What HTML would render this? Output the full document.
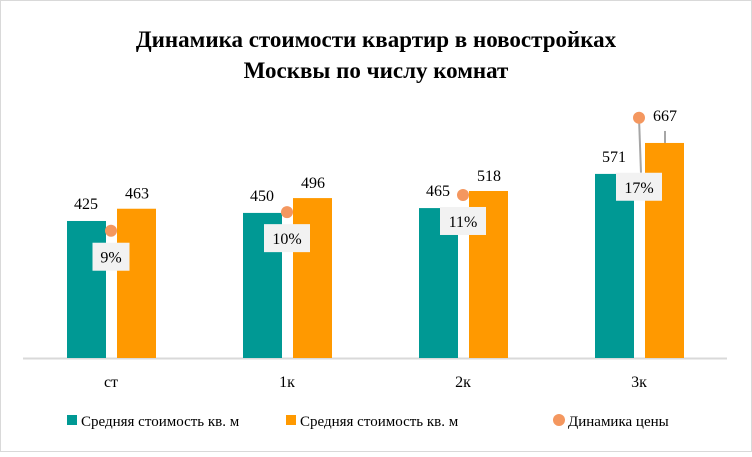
<!DOCTYPE html>
<html><head><meta charset="utf-8"><style>
body{margin:0;background:#fff}
svg text{font-family:"Liberation Serif",serif}
</style></head><body>
<svg width="752" height="452" xmlns="http://www.w3.org/2000/svg">
<rect x="0.5" y="0.5" width="751" height="451" fill="#fff" stroke="#d9d9d9"/>
<text x="376" y="47" text-anchor="middle" font-size="23" font-weight="bold">Динамика  стоимости  квартир  в новостройках</text>
<text x="376" y="78" text-anchor="middle" font-size="23" font-weight="bold">Москвы по числу комнат</text>
<line x1="23" y1="358.5" x2="727" y2="358.5" stroke="#d9d9d9" stroke-width="2"/>
<g id="plot"></g>
<g>
<rect x="67" y="415" width="10" height="10" fill="#009994"/>
<text x="81" y="426" font-size="15">Средняя стоимость кв. м</text>
<rect x="286" y="415" width="10" height="10" fill="#ff9900"/>
<text x="300" y="426" font-size="15">Средняя стоимость кв. м</text>
<circle cx="559" cy="420" r="6" fill="#f4975f"/>
<text x="568" y="426" font-size="15">Динамика цены</text>
</g>
</svg>
<script>
const categories=["ст","1к","2к","3к"];
const seriesA=[425,450,465,571];
const seriesB=[463,496,518,667];
const growth=[8.9,10.2,11.4,16.8];
const growthLabels=["9%","10%","11%","17%"];
const NS="http://www.w3.org/2000/svg";
const g=document.getElementById('plot');
const x0=23,band=176,base=358;
const yv=v=>base-v*0.3224;
const yp=p=>base-p*14.3;
const cx=i=>x0+band*(i+0.5);
function mk(t,a){const e=document.createElementNS(NS,t);for(const k in a)e.setAttribute(k,a[k]);g.appendChild(e);return e;}
categories.forEach((c,i)=>{
 const xc=cx(i);
 let r=mk('rect',{x:xc-44,y:yv(seriesA[i]),width:39,height:base-yv(seriesA[i]),fill:'#009994'});
 
 
 r=mk('rect',{x:xc+6,y:yv(seriesB[i]),width:39,height:base-yv(seriesB[i]),fill:'#ff9900'});
 
 
 let t=mk('text',{x:xc-25,y:yv(seriesA[i])-12,'text-anchor':'middle','font-size':'16'});t.textContent=seriesA[i];
 
 
 const last=i===categories.length-1;
 const bt=yv(seriesB[i]);
 if(last){const l=mk('line',{x1:xc+26,y1:bt,x2:xc+26,y2:bt-12,stroke:'#a6a6a6','stroke-width':2});
  
  }
 t=mk('text',{x:xc+26,y:last?bt-22:bt-10,'text-anchor':'middle','font-size':'16'});t.textContent=seriesB[i];
 
 
 const dy=yp(growth[i]);
 const ly=last?dy+55:dy+12;
 if(last){const l=mk('line',{x1:xc,y1:dy,x2:xc+2,y2:ly,stroke:'#a6a6a6','stroke-width':2});
  
  }
 const w=growthLabels[i].length>2?46:37;
 r=mk('rect',{x:xc-w/2,y:ly,width:w,height:28,fill:'#f2f2f2'});
 
 
 t=mk('text',{x:xc,y:ly+20,'text-anchor':'middle','font-size':'16'});t.textContent=growthLabels[i];
 
 
 const d=mk('circle',{cx:xc,cy:dy,r:6,fill:'#f4975f'});
 
 
 t=mk('text',{x:xc,y:387,'text-anchor':'middle','font-size':'16'});t.textContent=c;
 
 
});
</script>
</body></html>
